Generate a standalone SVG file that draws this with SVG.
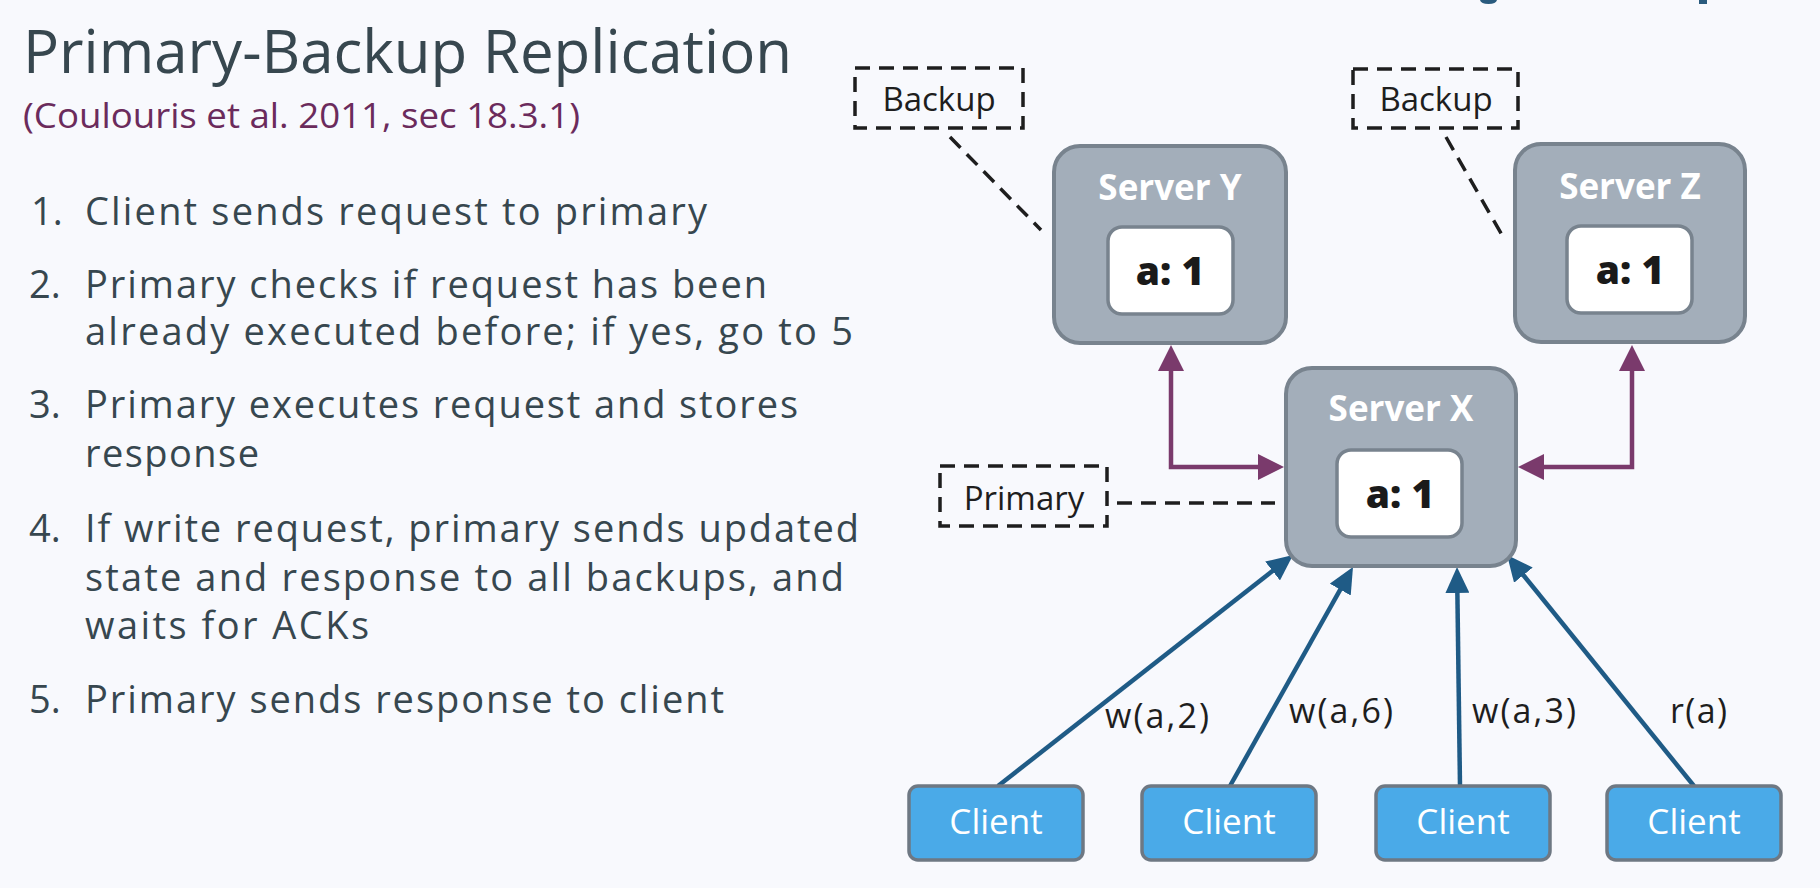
<svg xmlns="http://www.w3.org/2000/svg" width="1820" height="888" viewBox="0 0 1820 888">
<style>
.txt{font-family:"Open Sans","Noto Sans","DejaVu Sans",sans-serif;fill:#37474f}
.title{font-size:60px}
.sub{font-size:35px;fill:#6b2b5c}
.item{font-size:38px}
.dbox{fill:none;stroke:#1e1e1e;stroke-width:3.5;stroke-dasharray:15 9}
.dline{fill:none;stroke:#1e1e1e;stroke-width:3.5;stroke-dasharray:15 9}
.dlabel{font-family:"Open Sans","Noto Sans",sans-serif;font-size:33px;fill:#1e1e1e;text-anchor:middle}
.server{fill:#a3aeba;stroke:#78838e;stroke-width:4}
.inner{fill:#ffffff;stroke:#78838e;stroke-width:3.5}
.stitle{font-family:"Open Sans","Noto Sans",sans-serif;font-size:35px;font-weight:bold;fill:#ffffff;text-anchor:middle}
.val{font-family:"Open Sans","Noto Sans",sans-serif;font-size:39px;font-weight:800;fill:#1a1a1a;text-anchor:middle}
.client{fill:#4aaae8;stroke:#6e7883;stroke-width:3.5}
.ctext{font-family:"Open Sans","Noto Sans",sans-serif;font-size:35px;fill:#ffffff;text-anchor:middle}
.rep{fill:none;stroke:#7a3a6c;stroke-width:4.5}
.req{fill:none;stroke:#1f5b86;stroke-width:4.5}
.lbl{font-family:"Open Sans","Noto Sans",sans-serif;font-size:34px;fill:#1e1e1e}
</style>
<defs>
<marker id="ap" markerUnits="userSpaceOnUse" markerWidth="26" markerHeight="26" refX="6" refY="13" orient="auto-start-reverse" viewBox="0 0 26 26">
<path d="M0,0 L26,13 L0,26 z" fill="#7a3a6c"/>
</marker>
<marker id="ab" markerUnits="userSpaceOnUse" markerWidth="26" markerHeight="24" refX="6" refY="12" orient="auto" viewBox="0 0 26 24">
<path d="M0,0 L26,12 L0,24 z" fill="#1f5b86"/>
</marker>
</defs>
<rect x="0" y="0" width="1820" height="888" fill="#f8f9fd"/>
<path d="M1480,0 L1497,0 Q1496,4 1488.5,4 Q1481,4 1480,0 z" fill="#2a5b7e"/>
<rect x="1699" y="0" width="8" height="4" fill="#2a5b7e"/>

<g id="text-panel">
<text class="txt title" x="23" y="73" textLength="769" lengthAdjust="spacingAndGlyphs">Primary-Backup Replication</text>
<text class="txt sub" x="23" y="128" textLength="557" lengthAdjust="spacingAndGlyphs">(Coulouris et al. 2011, sec 18.3.1)</text>
<text class="txt item" x="31" y="225">1.</text>
<text class="txt item" x="85" y="225" textLength="622" lengthAdjust="spacing">Client sends request to primary</text>
<text class="txt item" x="29" y="298">2.</text>
<text class="txt item" x="85" y="298" textLength="682" lengthAdjust="spacing">Primary checks if request has been</text>
<text class="txt item" x="85" y="345" textLength="768" lengthAdjust="spacing">already executed before; if yes, go to 5</text>
<text class="txt item" x="29" y="418">3.</text>
<text class="txt item" x="85" y="418" textLength="713" lengthAdjust="spacing">Primary executes request and stores</text>
<text class="txt item" x="85" y="467" textLength="174" lengthAdjust="spacing">response</text>
<text class="txt item" x="29" y="542">4.</text>
<text class="txt item" x="85" y="542" textLength="774" lengthAdjust="spacing">If write request, primary sends updated</text>
<text class="txt item" x="85" y="591" textLength="759" lengthAdjust="spacing">state and response to all backups, and</text>
<text class="txt item" x="85" y="639" textLength="284" lengthAdjust="spacing">waits for ACKs</text>
<text class="txt item" x="29" y="713">5.</text>
<text class="txt item" x="85" y="713" textLength="639" lengthAdjust="spacing">Primary sends response to client</text>
</g>

<g id="connectors">
<path class="dline" d="M950,137 L1041,230"/>
<path class="dline" d="M1446,137 L1502,235"/>
<path class="dline" d="M1117,503 L1275,503"/>
<path class="rep" d="M1171,365 L1171,467 L1264,467" marker-start="url(#ap)" marker-end="url(#ap)"/>
<path class="rep" d="M1632,365 L1632,467 L1538,467" marker-start="url(#ap)" marker-end="url(#ap)"/>
<path class="req" d="M998,786 L1277.3,567.3" marker-end="url(#ab)"/>
<path class="req" d="M1230,786 L1343.2,584.4" marker-end="url(#ab)"/>
<path class="req" d="M1460,786 L1457.3,587" marker-end="url(#ab)"/>
<path class="req" d="M1694,786 L1519.6,570.5" marker-end="url(#ab)"/>
<text class="lbl" x="1105" y="728" textLength="104" lengthAdjust="spacing">w(a,2)</text>
<text class="lbl" x="1289" y="723" textLength="104" lengthAdjust="spacing">w(a,6)</text>
<text class="lbl" x="1472" y="723" textLength="104" lengthAdjust="spacing">w(a,3)</text>
<text class="lbl" x="1670" y="723" textLength="57" lengthAdjust="spacing">r(a)</text>
</g>

<g id="label-backup-y">
<rect class="dbox" x="855" y="68" width="168" height="60"/>
<text class="dlabel" x="939" y="111">Backup</text>
</g>
<g id="label-backup-z">
<rect class="dbox" x="1353" y="69" width="165" height="59"/>
<text class="dlabel" x="1436" y="111">Backup</text>
</g>
<g id="label-primary">
<rect class="dbox" x="940" y="466" width="167" height="60"/>
<text class="dlabel" x="1024" y="510">Primary</text>
</g>

<g id="server-y">
<rect class="server" x="1054" y="146" width="232" height="197" rx="26"/>
<text class="stitle" x="1170" y="200">Server Y</text>
<rect class="inner" x="1108" y="227" width="125" height="87" rx="14"/>
<text class="val" x="1170" y="285">a: 1</text>
</g>
<g id="server-z">
<rect class="server" x="1515" y="144" width="230" height="198" rx="26"/>
<text class="stitle" x="1630" y="199">Server Z</text>
<rect class="inner" x="1567" y="226" width="125" height="87" rx="14"/>
<text class="val" x="1630" y="284">a: 1</text>
</g>
<g id="server-x">
<rect class="server" x="1286" y="368" width="230" height="198" rx="26"/>
<text class="stitle" x="1401" y="421">Server X</text>
<rect class="inner" x="1337" y="450" width="125" height="87" rx="14"/>
<text class="val" x="1400" y="508">a: 1</text>
</g>

<g id="client-1">
<rect class="client" x="909" y="786" width="174" height="74" rx="9"/>
<text class="ctext" x="996" y="834">Client</text>
</g>
<g id="client-2">
<rect class="client" x="1142" y="786" width="174" height="74" rx="9"/>
<text class="ctext" x="1229" y="834">Client</text>
</g>
<g id="client-3">
<rect class="client" x="1376" y="786" width="174" height="74" rx="9"/>
<text class="ctext" x="1463" y="834">Client</text>
</g>
<g id="client-4">
<rect class="client" x="1607" y="786" width="174" height="74" rx="9"/>
<text class="ctext" x="1694" y="834">Client</text>
</g>
</svg>
